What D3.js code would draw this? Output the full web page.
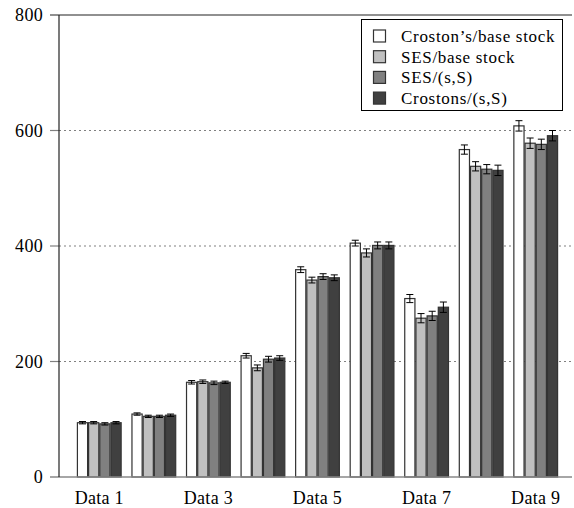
<!DOCTYPE html>
<html>
<head>
<meta charset="utf-8">
<script src="https://cdn.jsdelivr.net/npm/d3@7"></script>
<style>
  html, body { margin: 0; padding: 0; background: #fff; }
  svg { display: block; }
</style>
</head>
<body>
<svg id="chart" width="574" height="508"></svg>
<script>
const categories = ["Data 1","Data 2","Data 3","Data 4","Data 5","Data 6","Data 7","Data 8","Data 9"];
const xTickLabels = ["Data 1","Data 3","Data 5","Data 7","Data 9"];
const seriesNames = ["Croston\u2019s/base stock","SES/base stock","SES/(s,S)","Crostons/(s,S)"];
const crostonBase = [94,109,164,210,359,405,309,567,608];
const sesBase     = [94,105,165,189,341,388,275,538,578];
const sesSS       = [92,105,163,204,347,401,279,533,576];
const crostonSS   = [94,107,164,206,345,401,294,531,591];
const crostonBaseErr = [2,2,3,4,5,5,7,8,9];
const sesBaseErr     = [2,2,3,5,5,7,8,8,9];
const sesSSErr       = [2,2,3,5,5,6,8,8,9];
const crostonSSErr   = [2,2,2,4,5,6,9,9,9];
const yTicks = [0,200,400,600,800];
const colors = ["#ffffff","#c0c0c0","#808080","#404040"];

(function () {
const seriesValues = [crostonBase, sesBase, sesSS, crostonSS];
const seriesErrs = [crostonBaseErr, sesBaseErr, sesSSErr, crostonSSErr];

const svg = d3.select("#chart");
const pLeft = 59, pRight = 572, pTop = 15, pBottom = 477;
const font = "'Liberation Serif', 'Times New Roman', serif";

const y = d3.scaleLinear().domain([0, 800]).range([pBottom, pTop]);
const x0 = d3.scaleBand().domain(categories).range([72, 563]).paddingInner(0.18).paddingOuter(0.09);
const x1 = d3.scaleBand().domain(d3.range(seriesNames.length)).range([0, x0.bandwidth()]);

// gridlines
const g = svg.append("g");
yTicks.filter(t => t > 0 && t < 800).forEach(t => {
  g.append("line").attr("x1", pLeft).attr("x2", pRight).attr("y1", y(t)).attr("y2", y(t))
    .attr("stroke", "#808080").attr("stroke-width", 1.2).attr("stroke-dasharray", "2,3");
  g.append("line").attr("x1", 50).attr("x2", pLeft).attr("y1", y(t)).attr("y2", y(t))
    .attr("stroke", "#808080").attr("stroke-width", 1.2);
});

// y axis
const yAxis = d3.axisLeft(y).tickValues(yTicks).tickSize(0).tickPadding(16).tickFormat(d3.format("d"));
const ya = svg.append("g").attr("transform", `translate(${pLeft},0)`).call(yAxis);
ya.select(".domain").remove();
ya.selectAll("text").attr("font-family", font).attr("font-size", 18).attr("fill", "#000")
  .attr("letter-spacing", "0.3px");

// bars
const groups = svg.append("g").selectAll("g").data(categories).join("g")
  .attr("transform", d => `translate(${x0(d)},0)`);
seriesValues.forEach((vals, si) => {
  groups.append("rect")
    .attr("x", () => x1(si) + 0.5)
    .attr("width", x1.bandwidth() - 1)
    .attr("y", (d, i) => y(vals[i]))
    .attr("height", (d, i) => y(0) - y(vals[i]))
    .attr("fill", colors[si])
    .attr("stroke", "#333")
    .attr("stroke-width", 1.2);
});
// error bars
seriesValues.forEach((vals, si) => {
  const errs = seriesErrs[si];
  groups.each(function(d, i) {
    const cx = x1(si) + x1.bandwidth() / 2;
    const gg = d3.select(this);
    const yt = y(vals[i] + errs[i]), yb = y(vals[i] - errs[i]);
    gg.append("line").attr("x1", cx).attr("x2", cx).attr("y1", yt).attr("y2", yb).attr("stroke", "#000").attr("stroke-width", 1);
    gg.append("line").attr("x1", cx - 3.5).attr("x2", cx + 3.5).attr("y1", yt).attr("y2", yt).attr("stroke", "#000").attr("stroke-width", 1);
    gg.append("line").attr("x1", cx - 3.5).attr("x2", cx + 3.5).attr("y1", yb).attr("y2", yb).attr("stroke", "#000").attr("stroke-width", 1);
  });
});

// frame lines
svg.append("line").attr("x1", 50).attr("x2", pRight).attr("y1", y(800)).attr("y2", y(800))
  .attr("stroke", "#222").attr("stroke-width", 1.2);
svg.append("line").attr("x1", 50).attr("x2", pRight).attr("y1", y(0)).attr("y2", y(0))
  .attr("stroke", "#888").attr("stroke-width", 1.5);
svg.append("line").attr("x1", pLeft).attr("x2", pLeft).attr("y1", y(800)).attr("y2", y(0))
  .attr("stroke", "#222").attr("stroke-width", 1.2);

// x axis labels
const xAxis = d3.axisBottom(x0).tickSize(0).tickPadding(14)
  .tickFormat(d => xTickLabels.includes(d) ? d : "");
const xa = svg.append("g").attr("transform", `translate(0,${pBottom})`).call(xAxis);
xa.select(".domain").remove();
xa.selectAll("text").attr("font-family", font).attr("font-size", 18).attr("fill", "#000")
  .attr("letter-spacing", "0.3px");

// legend
const lg = svg.append("g");
lg.append("rect").attr("x", 361.5).attr("y", 19.5).attr("width", 201).attr("height", 91)
  .attr("fill", "#fff").attr("stroke", "#000").attr("stroke-width", 1);
seriesNames.forEach((name, i) => {
  const cy = 36 + i * 20.7;
  lg.append("rect").attr("x", 373.5).attr("y", cy - 6).attr("width", 12).attr("height", 12)
    .attr("fill", colors[i]).attr("stroke", "#333").attr("stroke-width", 1.2);
  lg.append("text").attr("x", 401).attr("y", cy).attr("dy", "0.35em")
    .attr("font-family", font).attr("font-size", 17).attr("letter-spacing", "0.7px")
    .attr("fill", "#000").text(name);
});
})();
</script>
</body>
</html>
